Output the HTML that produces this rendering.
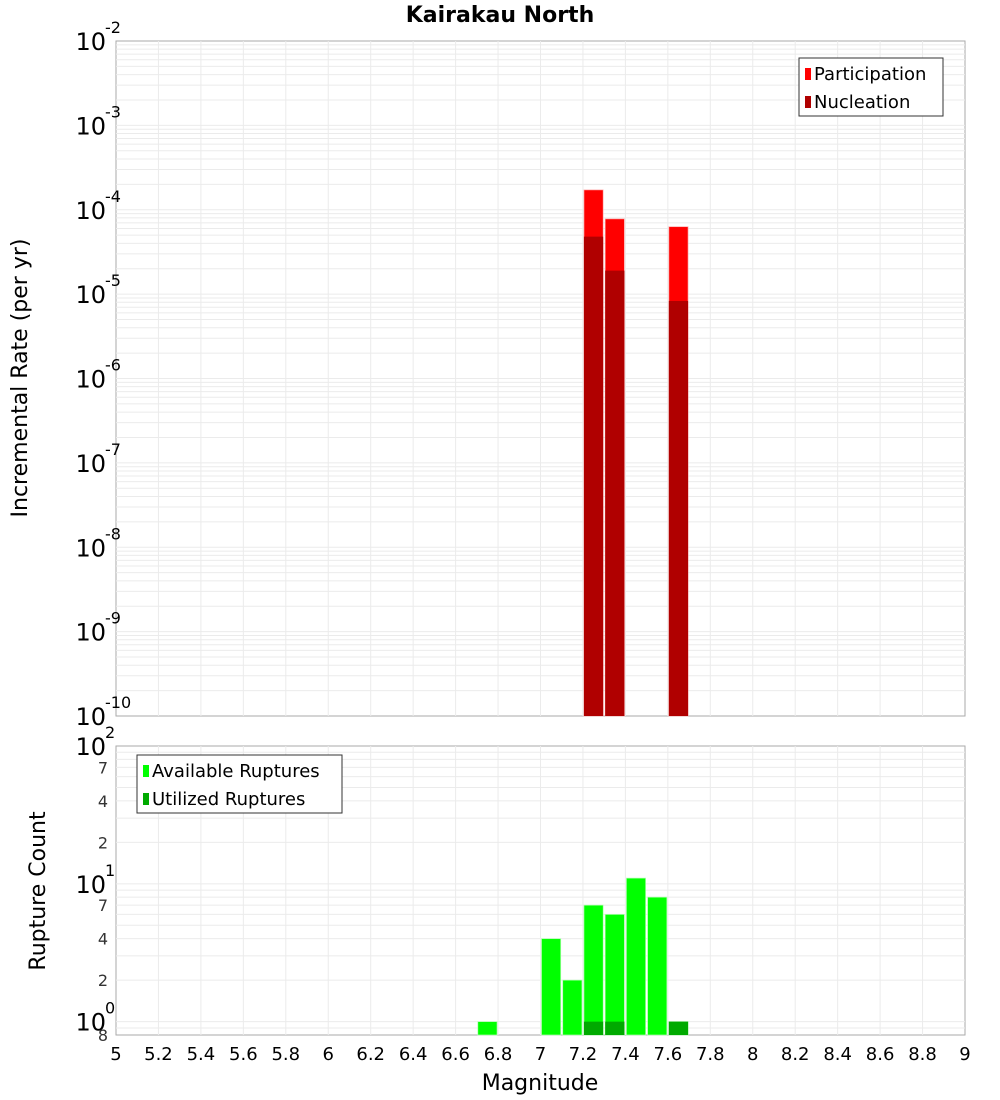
<!DOCTYPE html>
<html><head><meta charset="utf-8"><style>
body{margin:0;background:#fff;}
svg{display:block;font-family:"DejaVu Sans","Liberation Sans",sans-serif;}
</style></head><body>
<svg id="c" width="1000" height="1100"></svg>
<script>
const binCenters=[7.25,7.35,7.65];
const participation=[1.72e-4,7.8e-5,6.3e-5];
const nucleation=[4.8e-5,1.9e-5,8.3e-6];
const countMags=[6.75,7.05,7.15,7.25,7.35,7.45,7.55,7.65];
const available=[1,4,2,7,6,11,8,1];
const utilMags=[7.25,7.35,7.65];
const utilized=[1,1,1];
const xTicks=[5,5.2,5.4,5.6,5.8,6,6.2,6.4,6.6,6.8,7,7.2,7.4,7.6,7.8,8,8.2,8.4,8.6,8.8,9];
const topExp=[-2,-3,-4,-5,-6,-7,-8,-9,-10];
const botMinor=[2,4,7,20,40,70];

const NS="http://www.w3.org/2000/svg";
const svg=document.getElementById('c');
function el(t,a,p){const e=document.createElementNS(NS,t);for(const k in a)e.setAttribute(k,a[k]);(p||svg).appendChild(e);return e;}
const L=116,R=965,T1=41,B1=716,T2=746,B2=1035;
const x=v=>L+(v-5)/4*(R-L);
const y1=v=>T1+(-2-Math.log10(v))/8*(B1-T1);
const y2=v=>T2+(2-Math.log10(v))/(2-Math.log10(0.8))*(B2-T2);

// backgrounds
let r=el('rect',{x:L,y:T1,width:R-L,height:B1-T1,fill:'#fff',stroke:'#aaa'});

r=el('rect',{x:L,y:T2,width:R-L,height:B2-T2,fill:'#fff',stroke:'#aaa'});

// grids
const g=el('g',{stroke:'#ebebeb','stroke-width':1});

xTicks.forEach(t=>{if(t>5&&t<9){el('line',{x1:x(t),x2:x(t),y1:T1,y2:B1},g);el('line',{x1:x(t),x2:x(t),y1:T2,y2:B2},g);}});
for(let e=-10;e<-2;e++)for(let m=1;m<10;m++){const yy=y1(m*Math.pow(10,e));if(yy>T1&&yy<B1)el('line',{x1:L,x2:R,y1:yy,y2:yy},g);}
[0.8,0.9,1,2,3,4,5,6,7,8,9,10,20,30,40,50,60,70,80,90].forEach(v=>{const yy=y2(v);if(yy>T2&&yy<B2)el('line',{x1:L,x2:R,y1:yy,y2:yy},g);});

// top bars
binCenters.forEach((m,i)=>{
 let b=el('rect',{x:x(m-0.05)+1,y:y1(participation[i]),width:x(0.1+5)-L-2,height:B1-y1(participation[i]),fill:'#ff0000',stroke:'#ffb0b0','stroke-width':0.7});
 
 b=el('rect',{x:x(m-0.05)+1,y:y1(nucleation[i]),width:x(0.1+5)-L-2,height:B1-y1(nucleation[i]),fill:'#b00000'});
 
});
// bottom bars
countMags.forEach((m,i)=>{
 const b=el('rect',{x:x(m-0.05)+1,y:y2(available[i]),width:x(5.1)-L-2,height:B2-y2(available[i]),fill:'#00ff00',stroke:'#b0ffb0','stroke-width':0.7});
 
});
utilMags.forEach((m,i)=>{
 const b=el('rect',{x:x(m-0.05)+1,y:y2(utilized[i]),width:x(5.1)-L-2,height:B2-y2(utilized[i]),fill:'#00aa00'});
 
});

// top y labels
topExp.forEach(e=>{
 const t=el('text',{x:L-10,y:y1(Math.pow(10,e))+9,'font-size':24,'text-anchor':'end',fill:'#000'});
 
 t.textContent='10';
 const s=el('text',{x:L-10,y:y1(Math.pow(10,e))-8,'font-size':16,fill:'#000','text-anchor':'start'});
 
 s.textContent=String(e);
 s.setAttribute('x',L-11);
});
// bottom y labels
[2,1,0].forEach(e=>{
 const yy=y2(Math.pow(10,e));
 const t=el('text',{x:L-10,y:yy+9,'font-size':24,'text-anchor':'end',fill:'#000'});
 
 t.textContent='10';
 const s=el('text',{x:L-11,y:yy-8,'font-size':16,fill:'#000'});
 
 s.textContent=String(e);
});
botMinor.concat([0.8]).forEach(v=>{
 const t=el('text',{x:L-8,y:y2(v)+6,'font-size':16,'text-anchor':'end',fill:'#333'});
 
 t.textContent=String(v<1?8:String(v)[0]);
});
// x labels
xTicks.forEach(v=>{
 const t=el('text',{x:x(v),y:1060,'font-size':18,'text-anchor':'middle',fill:'#000'});
 
 t.textContent=String(v);
});
let t=el('text',{x:540,y:1090,'font-size':22,'text-anchor':'middle'});
t.textContent='Magnitude';
t=el('text',{x:500,y:22,'font-size':22,'font-weight':'bold','text-anchor':'middle'});
t.textContent='Kairakau North';
t=el('text',{x:0,y:0,'font-size':22,'text-anchor':'middle',transform:'translate(27,378) rotate(-90)'});
t.textContent='Incremental Rate (per yr)';
t=el('text',{x:0,y:0,'font-size':22,'text-anchor':'middle',transform:'translate(45,891) rotate(-90)'});
t.textContent='Rupture Count';

// legends
function legend(name,bx,by,w,items){
 const lg=el('g',{});
 
 el('rect',{x:bx,y:by,width:w,height:58,fill:'#fff',stroke:'#333'},lg);
 items.forEach((it,i)=>{
  el('rect',{x:bx+6,y:by+10+i*28,width:6,height:12,fill:it[1]},lg);
  const tx=el('text',{x:bx+15,y:by+22+i*28,'font-size':18,fill:'#000'},lg);
  
  tx.textContent=it[0];
 });
}
legend('rate-legend',799,58,144,[['Participation','#ff0000'],['Nucleation','#b00000']]);
legend('count-legend',137,755,205,[['Available Ruptures','#00ff00'],['Utilized Ruptures','#00aa00']]);
</script>
</body></html>
